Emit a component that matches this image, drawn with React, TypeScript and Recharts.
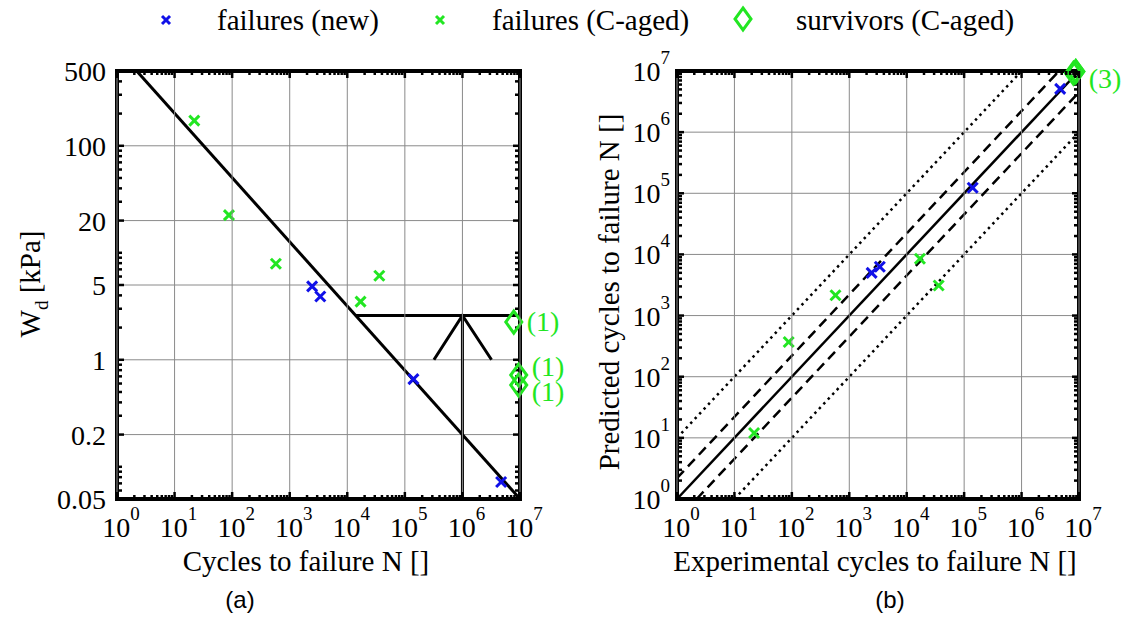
import React from 'react';
import { ScatterChart, Scatter, XAxis, YAxis, CartesianGrid, ReferenceArea } from 'recharts';

// ---------------- data ----------------
const nTicks = [1, 10, 100, 1000, 10000, 100000, 1000000, 10000000];
const wdTicks = [0.05, 0.2, 1, 5, 20, 100, 500];

// failures, new specimens
const newN = [2450, 3400, 141000, 4700000];
const newWd = [4.85, 3.9, 0.66, 0.072];
const newPred = [5000, 6300, 123000, 5100000];

// failures, C-aged specimens
const agedN = [22, 88, 575, 17000, 36000];
const agedWd = [172, 22.5, 7.9, 3.5, 6.1];
const agedPred = [12, 370, 2150, 8500, 3100];

// survivors, C-aged specimens
const survN = [7800000, 9500000, 9500000];
const survWd = [2.25, 0.72, 0.58];
const survExpB = [8000000, 8800000, 8800000];
const survPred = [9200000, 9800000, 9800000];
const survLabelsA = ['(1)', '(1)', '(1)'];
const survLabelsB = ['', '', '(3)'];

// panel (a) design curve and construction lines
const fitN = [2.2, 10000000];
const fitWd = [500, 0.05];
const levelN = [14000, 10000000];
const levelWd = [2.6, 2.6];
const shaftN = [1000000, 1000000];
const shaftWd = [0.05, 2.6];
const headN = [320000, 1000000, 3200000];
const headWd = [1, 2.6, 1];

// panel (b) guide lines
const diagX = [1, 10000000];
const diagY = [1, 10000000];
const dashUpX = [1, 4500000];
const dashUpY = [2.2, 10000000];
const dashLoX = [2.2, 10000000];
const dashLoY = [1, 4500000];
const dotUpX = [1, 1000000];
const dotUpY = [10, 10000000];
const dotLoX = [10, 10000000];
const dotLoY = [1, 1000000];

// ---------------- helpers ----------------
const pts = (xs: number[], ys: number[], labels?: string[]) =>
  xs.map((x, i) => ({ x, y: ys[i], label: labels ? labels[i] : '' }));

function minorLogTicks(lo: number, hi: number, exclude: number[]) {
  const out: number[] = [];
  for (let e = -3; e <= 8; e++) {
    for (let m = 1; m <= 9; m++) {
      const v = Number((m * Math.pow(10, e)).toPrecision(6));
      if (v > lo && v < hi && !exclude.some((t) => Math.abs(t - v) / v < 1e-6)) out.push(v);
    }
  }
  return out;
}
const isMajor = (v: number, majors: number[]) => majors.some((t) => Math.abs(t - v) / t < 1e-6);

const BLUE = '#1010e8';
const GREEN = '#22e622';
const GRID = '#8a8a8a';
const FONT = "'Liberation Serif', 'Times New Roman', serif";
const SANS = "'Liberation Sans', Arial, sans-serif";
const TICK_FS = 28;
const SUP_FS = 19;
const TITLE_FS = 29;
const PLOT_H = 428;
const MAJOR_LEN = 7;
const MINOR_LEN = 4;

const renderNone = () => <g />;

const crossShape = (color: string, s = 5) => (props: any) => {
  const { cx, cy } = props;
  return (
    <g>
      <line x1={cx - s} y1={cy - s} x2={cx + s} y2={cy + s} stroke={color} strokeWidth={3} />
      <line x1={cx - s} y1={cy + s} x2={cx + s} y2={cy - s} stroke={color} strokeWidth={3} />
    </g>
  );
};

const diamondPath = (cx: number, cy: number) =>
  `M${cx},${cy - 11} L${cx + 8},${cy} L${cx},${cy + 11} L${cx - 8},${cy} Z`;

const labelShift = [0, -8, 7];

const diamondShape = (data: { x: number; y: number; label: string }[]) => (props: any) => {
  const { cx, cy, payload } = props;
  const idx = data.findIndex((d) => d.x === payload?.x && d.y === payload?.y && d.label === payload?.label);
  const dy = idx >= 0 ? labelShift[idx] || 0 : 0;
  return (
    <g>
      <path d={diamondPath(cx, cy)} fill="none" stroke={GREEN} strokeWidth={3} />
      {payload?.label ? (
        <text x={cx + 13} y={cy + dy + 9} fontFamily={FONT} fontSize={TICK_FS} fill={GREEN}>
          {payload.label}
        </text>
      ) : null}
    </g>
  );
};

// x tick: draws grid line + inward frame ticks (bottom & top) + label for decades
const powTickX = (props: any) => {
  const { x, y, payload } = props;
  const v = payload.value;
  const major = isMajor(v, nTicks);
  const len = major ? MAJOR_LEN : MINOR_LEN;
  const top = y - PLOT_H;
  const exp = Math.round(Math.log10(v));
  return (
    <g>
      {major ? <line x1={x} y1={y} x2={x} y2={top} stroke={GRID} strokeWidth={1} /> : null}
      <line x1={x} y1={y} x2={x} y2={y - len} stroke="#000" strokeWidth={2.5} />
      <line x1={x} y1={top} x2={x} y2={top + len} stroke="#000" strokeWidth={2.5} />
      {major ? (
        <text x={x + 4} y={y + 38} textAnchor="middle" fontFamily={FONT} fontSize={TICK_FS} fill="#000">
          <tspan>10</tspan>
          <tspan dy={-17} fontSize={SUP_FS}>{exp}</tspan>
        </text>
      ) : null}
    </g>
  );
};

const powTickY = (props: any) => {
  const { x, y, payload } = props;
  const exp = Math.round(Math.log10(payload.value));
  return (
    <text x={x - 7} y={y + 10} textAnchor="end" fontFamily={FONT} fontSize={TICK_FS} fill="#000">
      <tspan>10</tspan>
      <tspan dy={-17} fontSize={SUP_FS}>{exp}</tspan>
    </text>
  );
};

const wdTick = (props: any) => {
  const { x, y, payload } = props;
  return (
    <text x={x - 11} y={y + 10} textAnchor="end" fontFamily={FONT} fontSize={TICK_FS} fill="#000">
      {String(payload.value)}
    </text>
  );
};

// inward tick marks on left and right frame edges (mirrored y axes)
function yFrameAxes(yDomain: number[], yMajor: number[]) {
  const yMinor = minorLogTicks(yDomain[0], yDomain[1], yMajor);
  const line = { stroke: '#000', strokeWidth: 2.5 };
  const els: any[] = [];
  (['left', 'right'] as const).forEach((o) => {
    els.push(
      <YAxis key={`y${o}M`} yAxisId={`y${o}M`} orientation={o} mirror width={1} type="number" scale="log"
        domain={yDomain} allowDataOverflow ticks={yMajor} interval={0} tick={renderNone}
        tickLine={line} tickSize={MAJOR_LEN} axisLine={false} />,
      <YAxis key={`y${o}m`} yAxisId={`y${o}m`} orientation={o} mirror width={1} type="number" scale="log"
        domain={yDomain} allowDataOverflow ticks={yMinor} interval={0} tick={renderNone}
        tickLine={line} tickSize={MINOR_LEN} axisLine={false} />,
    );
  });
  return els;
}

const lineSeries = (key: string, data: any[], style: any) => (
  <Scatter key={key} data={data} line={{ fill: 'none', ...style }} lineType="joint" shape={renderNone}
    isAnimationActive={false} />
);

const xAllTicks = [...nTicks, ...minorLogTicks(1, 10000000, nTicks)].sort((a, b) => a - b);

// ---------------- panels ----------------
const survA = pts(survN, survWd, survLabelsA);
const survB = pts(survExpB, survPred, survLabelsB);

function PanelA() {
  const xd = [1, 10000000];
  const yd = [0.05, 500];
  const solid = { stroke: '#000', strokeWidth: 3 };
  return (
    <ScatterChart width={575} height={560} margin={{ top: 71, right: 55, bottom: 21, left: 0 }}>
      <CartesianGrid stroke={GRID} strokeWidth={1} vertical={false} />
      <XAxis dataKey="x" type="number" scale="log" domain={xd} ticks={xAllTicks} interval={0}
        tick={powTickX} tickLine={false} axisLine={false} tickSize={0} tickMargin={0} height={40} />
      <YAxis dataKey="y" type="number" scale="log" domain={yd} ticks={wdTicks} interval={0}
        tick={wdTick} tickLine={false} axisLine={false} tickSize={0} tickMargin={0} width={117} />
      {yFrameAxes(yd, wdTicks)}
      <ReferenceArea x1={1} x2={10000000} y1={0.05} y2={500} fill="none" stroke="#000" strokeWidth={4}
        ifOverflow="visible" />
      {lineSeries('fit', pts(fitN, fitWd), solid)}
      {lineSeries('level', pts(levelN, levelWd), solid)}
      {lineSeries('shaft', pts(shaftN, shaftWd), solid)}
      {lineSeries('head', pts(headN, headWd), solid)}
      <Scatter data={pts(newN, newWd)} shape={crossShape(BLUE)} isAnimationActive={false} />
      <Scatter data={pts(agedN, agedWd)} shape={crossShape(GREEN)} isAnimationActive={false} />
      <Scatter data={survA} shape={diamondShape(survA)} isAnimationActive={false} />
    </ScatterChart>
  );
}

function PanelB() {
  const xd = [1, 10000000];
  const yd = [1, 10000000];
  const solid = { stroke: '#000', strokeWidth: 2.5 };
  const dashed = { stroke: '#000', strokeWidth: 2.5, strokeDasharray: '10 6' };
  const dotted = { stroke: '#000', strokeWidth: 2.5, strokeDasharray: '2.5 4' };
  return (
    <ScatterChart width={561} height={560} margin={{ top: 71, right: 44, bottom: 21, left: 0 }}>
      <CartesianGrid stroke={GRID} strokeWidth={1} vertical={false} />
      <XAxis dataKey="x" type="number" scale="log" domain={xd} ticks={xAllTicks} interval={0}
        tick={powTickX} tickLine={false} axisLine={false} tickSize={0} tickMargin={0} height={40} />
      <YAxis dataKey="y" type="number" scale="log" domain={yd} ticks={nTicks} interval={0}
        tick={powTickY} tickLine={false} axisLine={false} tickSize={0} tickMargin={0} width={115} />
      {yFrameAxes(yd, nTicks)}
      <ReferenceArea x1={1} x2={10000000} y1={1} y2={10000000} fill="none" stroke="#000" strokeWidth={4}
        ifOverflow="visible" />
      {lineSeries('dotUp', pts(dotUpX, dotUpY), dotted)}
      {lineSeries('dotLo', pts(dotLoX, dotLoY), dotted)}
      {lineSeries('dashUp', pts(dashUpX, dashUpY), dashed)}
      {lineSeries('dashLo', pts(dashLoX, dashLoY), dashed)}
      {lineSeries('diag', pts(diagX, diagY), solid)}
      <Scatter data={pts(newN, newPred)} shape={crossShape(BLUE)} isAnimationActive={false} />
      <Scatter data={pts(agedN, agedPred)} shape={crossShape(GREEN)} isAnimationActive={false} />
      <Scatter data={survB} shape={diamondShape(survB)} isAnimationActive={false} />
    </ScatterChart>
  );
}

const legendItems = [
  { label: 'failures (new)', kind: 'cross', color: BLUE, mx: 166, tx: 217 },
  { label: 'failures (C-aged)', kind: 'cross', color: GREEN, mx: 440, tx: 492 },
  { label: 'survivors (C-aged)', kind: 'diamond', color: GREEN, mx: 743, tx: 796 },
];

export default function App() {
  return (
    <div style={{ position: 'absolute', left: 0, top: 0, width: 1123, height: 637, background: '#fff', overflow: 'hidden' }}>
      <svg width={1123} height={637} style={{ position: 'absolute', left: 0, top: 0 }}>
        {legendItems.map((it) => (
          <g key={it.label}>
            {it.kind === 'cross'
              ? crossShape(it.color, 4)({ cx: it.mx, cy: 20 })
              : <path d={diamondPath(it.mx, 19)} fill="none" stroke={GREEN} strokeWidth={3} />}
            <text x={it.tx} y={30} fontFamily={FONT} fontSize={TITLE_FS} fill="#000">{it.label}</text>
          </g>
        ))}
        <text x={306} y={571} textAnchor="middle" fontFamily={FONT} fontSize={TITLE_FS} fill="#000">Cycles to failure N []</text>
        <text x={875} y={571} textAnchor="middle" fontFamily={FONT} fontSize={TITLE_FS} fill="#000">Experimental cycles to failure N []</text>
        <text x={40} y={284} transform="rotate(-90 40 284)" textAnchor="middle" fontFamily={FONT} fontSize={TITLE_FS} fill="#000">
          <tspan>W</tspan>
          <tspan dy={8} fontSize={19}>d</tspan>
          <tspan dy={-8}> [kPa]</tspan>
        </text>
        <text x={619} y={292} transform="rotate(-90 619 292)" textAnchor="middle" fontFamily={FONT} fontSize={TITLE_FS} fill="#000">
          Predicted cycles to failure N []
        </text>
        <text x={240} y={608} textAnchor="middle" fontFamily={SANS} fontSize={24} fill="#000">(a)</text>
        <text x={890} y={608} textAnchor="middle" fontFamily={SANS} fontSize={24} fill="#000">(b)</text>
      </svg>
      <div style={{ position: 'absolute', left: 562, top: 0 }}>
        <PanelB />
      </div>
      <div style={{ position: 'absolute', left: 0, top: 0, pointerEvents: 'none' }}>
        <PanelA />
      </div>
    </div>
  );
}
